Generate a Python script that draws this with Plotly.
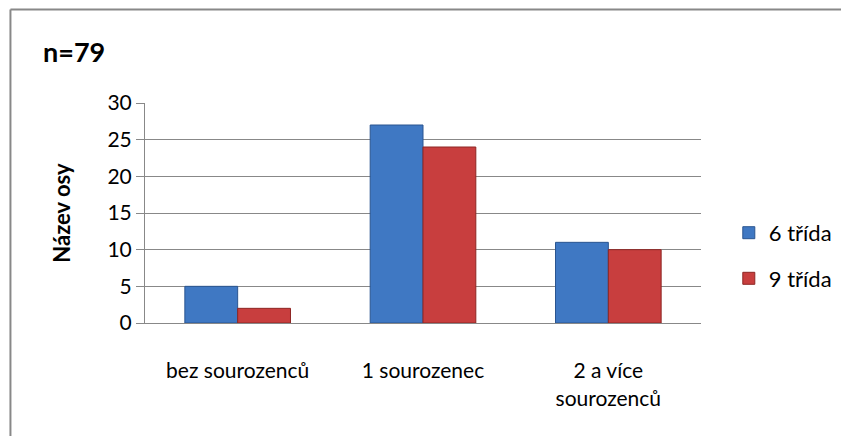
import plotly.graph_objects as go

# data
categories = ["bez sourozenců", "1 sourozenec", "2 a více<br>sourozenců"]
series_names = ["6 třída", "9 třída"]
vals_6 = [5, 27, 11]
vals_9 = [2, 24, 10]
y_ticks = [0, 5, 10, 15, 20, 25, 30]

font = "Lato, Noto Sans, sans-serif"

fig = go.Figure()
fig.add_trace(go.Bar(
    x=categories, y=vals_6, name=series_names[0],
    marker=dict(color="#3F78C3", line=dict(color="#2A5590", width=1)),
    legendgroup="a",
))
fig.add_trace(go.Bar(
    x=categories, y=vals_9, name=series_names[1],
    marker=dict(color="#C83E3E", line=dict(color="#8E2624", width=1)),
    legendgroup="b",
))

# page has an 8px body margin, so the figure is a bit smaller than the window
fig.update_layout(
    width=841, height=428,
    margin=dict(l=137, r=146, t=95, b=113),
    paper_bgcolor="white", plot_bgcolor="white",
    font=dict(family=font, size=21, color="#000"),
    barmode="group", bargap=0.43, bargroupgap=0,
    showlegend=True,
    legend=dict(x=1.05, y=0.305, xanchor="left", yanchor="middle",
                traceorder="grouped", tracegroupgap=14,
                font=dict(size=22)),
    xaxis=dict(showline=True, linecolor="#888", linewidth=1,
               tickfont=dict(size=21), ticks="outside", ticklen=29,
               tickcolor="rgba(0,0,0,0)"),
    yaxis=dict(range=[0, 30], tickvals=y_ticks, showgrid=True,
               gridcolor="#888", gridwidth=1, showline=True,
               linecolor="#888", ticks="outside", ticklen=8,
               tickcolor="#888", tickfont=dict(size=21),
               title=dict(text="<b>Název osy</b>", font=dict(size=22), standoff=30),
               zeroline=False),
    annotations=[dict(text="<b>n=79</b>", xref="paper", yref="paper",
                      x=-0.187, y=1.232, xanchor="left", yanchor="middle",
                      showarrow=False, font=dict(size=27))],
    shapes=[
        dict(type="line", xref="paper", yref="paper", x0=-0.242, x1=-0.242,
             y0=1.425, y1=-0.6, line=dict(color="#888", width=2)),
        dict(type="line", xref="paper", yref="paper", x0=-0.242, x1=1.3,
             y0=1.425, y1=1.425, line=dict(color="#888", width=2)),
    ],
)

fig.write_html("out.html")
